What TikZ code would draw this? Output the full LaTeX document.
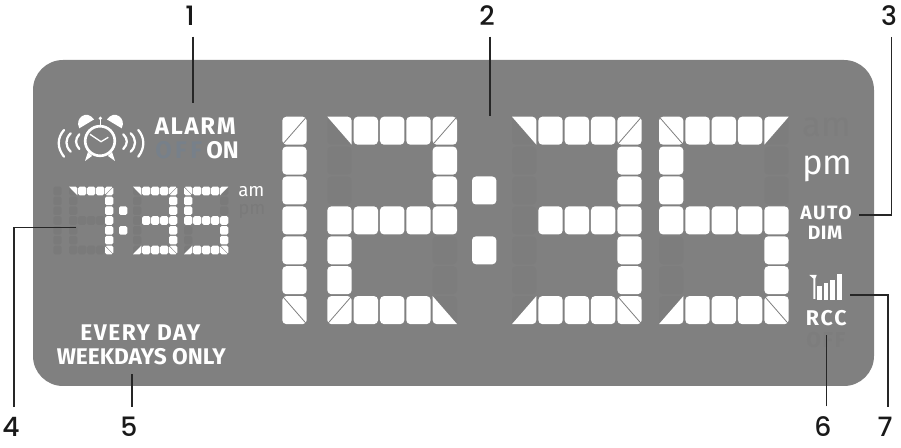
\documentclass[tikz,border=0pt]{standalone}
\usepackage{xcolor}
\usepackage{fontspec}
\setmainfont{Fira Sans}
\newfontfamily\calloutfont{Poppins Medium}
\usepackage{tikz}
\definecolor{panelgray}{HTML}{808080}
\definecolor{ghostbig}{HTML}{7D7D7D}
\definecolor{ghostsmall}{HTML}{7A7A7A}
\definecolor{ghostoff}{HTML}{77808A}
\tikzset{
  seg/.style={fill=white},
  leader/.style={line width=0.9pt, black!85},
  callout/.style={font=\calloutfont\fontsize{20}{20}\selectfont, inner sep=0pt, anchor=base, outer ysep=8pt, black!90},
  lcdtext/.style 2 args={font=\bfseries\fontsize{#1}{#1}\selectfont\addfontfeature{LetterSpace=#2}, white, inner sep=0pt, anchor=base west}
}
\newcommand{\lcdghost}[2]{\fill[ghostcol, rounded corners=\rr] ({\ox+#1*\px},{\oy+#2*\py}) rectangle ++(\cw,\ch);}
\newcommand{\lcdon}[2]{\fill[seg, rounded corners=\rr] ({\ox+#1*\px},{\oy+#2*\py}) rectangle ++(\cw,\ch);}
\newcommand{\lcdslash}[2]{\lcdon{#1}{#2}
  \draw[panelgray, line width=\sl] ({\ox+#1*\px},{\oy+#2*\py+\ch}) -- ++(\cw,-\ch);}
\newcommand{\lcdback}[2]{\lcdon{#1}{#2}
  \draw[panelgray, line width=\sl] ({\ox+#1*\px},{\oy+#2*\py}) -- ++(\cw,\ch);}
% triangles, named by the corner that is kept
\newcommand{\lcdur}[2]{\fill[seg] ({\ox+#1*\px},{\oy+#2*\py}) [rounded corners=\rr] -- ++(\cw,0) [sharp corners] -- ++(0,\ch) -- cycle;}
\newcommand{\lcdul}[2]{\fill[seg] ({\ox+#1*\px+\cw},{\oy+#2*\py}) [rounded corners=\rr] -- ++(-\cw,0) [sharp corners] -- ++(0,\ch) -- cycle;}
\newcommand{\lcdll}[2]{\fill[seg] ({\ox+#1*\px},{\oy+#2*\py}) [rounded corners=\rr] -- ++(0,\ch) [sharp corners] -- ++(\cw,0) -- cycle;}
\newcommand{\lcdlr}[2]{\fill[seg] ({\ox+#1*\px+\cw},{\oy+#2*\py}) [rounded corners=\rr] -- ++(0,\ch) [sharp corners] -- ++(-\cw,0) -- cycle;}
\newcommand{\digitone}[1]{\def\ox{#1}
  \lcdslash{0}{0}
  \foreach \r in {1,...,5} {\lcdon{0}{\r}}
  \lcdback{0}{6}}
\newcommand{\digittwo}[1]{\def\ox{#1}
  \foreach \r in {0,1,2} {\lcdghost{0}{\r}}
  \foreach \r in {4,5,6} {\lcdghost{4}{\r}}
  \lcdur{0}{0}
  \foreach \c in {1,2,3} {\lcdon{\c}{0}\lcdon{\c}{3}\lcdon{\c}{6}}
  \lcdslash{4}{0}
  \foreach \r in {1,2,3} {\lcdon{4}{\r}}
  \foreach \r in {3,4,5} {\lcdon{0}{\r}}
  \lcdslash{0}{6}
  \lcdll{4}{6}}
\newcommand{\digitthree}[1]{\def\ox{#1}
  \foreach \r in {0,...,6} {\lcdghost{0}{\r}}
  \lcdur{0}{0}
  \foreach \c in {1,2,3} {\lcdon{\c}{0}\lcdon{\c}{3}\lcdon{\c}{6}}
  \lcdslash{4}{0}
  \foreach \r in {1,...,5} {\lcdon{4}{\r}}
  \lcdlr{0}{6}
  \lcdback{4}{6}}
\newcommand{\digitfive}[1]{\def\ox{#1}
  \foreach \r in {0,1,2} {\lcdghost{4}{\r}}
  \foreach \r in {4,5,6} {\lcdghost{0}{\r}}
  \lcdback{0}{0}
  \foreach \c in {1,2,3} {\lcdon{\c}{0}\lcdon{\c}{3}\lcdon{\c}{6}}
  \lcdul{4}{0}
  \foreach \r in {1,2,3} {\lcdon{0}{\r}}
  \foreach \r in {3,4,5} {\lcdon{4}{\r}}
  \lcdlr{0}{6}
  \lcdback{4}{6}}
\newcommand{\digitseven}[1]{\def\ox{#1}
  \foreach \r in {0,...,6} {\lcdghost{0}{\r}}
  \foreach \c in {1,2,3} {\lcdghost{\c}{3}\lcdghost{\c}{6}}
  \lcdur{0}{0}
  \foreach \c in {1,2,3} {\lcdon{\c}{0}}
  \lcdslash{4}{0}
  \foreach \r in {1,...,5} {\lcdon{4}{\r}}
  \lcdback{4}{6}}
\begin{document}
\begin{tikzpicture}[x=0.75pt, y=-0.75pt]
\useasboundingbox (0,0) rectangle (901,448);
\fill[panelgray, rounded corners=22.5pt] (33,60) rectangle (874,386);

% main time
\begin{scope}
\colorlet{ghostcol}{ghostbig}
\def\px{26.33}\def\py{29.9}\def\cw{24.4}\def\ch{28}\def\rr{3pt}\def\sl{0.6pt}\def\oy{116.7}
\digitone{282.3}
\digittwo{327.3}
\digitthree{512}
\digitfive{659}
\def\ox{472}
\lcdon{0}{2}
\lcdon{0}{4}
\end{scope}

% alarm time
\begin{scope}
\colorlet{ghostcol}{ghostsmall}
\def\px{9}\def\py{9.83}\def\cw{8.3}\def\ch{8.6}\def\rr{1.2pt}\def\sl{0.3pt}\def\oy{186.7}
\def\ox{53.3}
\foreach \r in {0,...,6} {\lcdghost{0}{\r}}
\digitseven{69}
\digitthree{133}
\digitfive{184}
\def\ox{119}
\lcdon{0}{2}
\lcdon{0}{4}
\end{scope}

% clock icon
\draw[white, line width=2pt] (100,141) circle (14.8);
\draw[white, line width=1pt] (90,134.3) -- (101,141.7) -- (108.3,137.3);
\fill[white] (79.3,128.3) .. controls (74,118) and (87,109) .. (94,119.5) -- cycle;
\fill[white] (121.7,128.3) .. controls (127,118) and (114,109) .. (107,119.5) -- cycle;
\draw[white, line width=1pt] (100.3,118) -- (100.3,126);
\fill[white] (100.3,118.3) circle (1.8);
\fill[white] (88,152) -- (92,156) -- (85,161) -- cycle;
\fill[white] (112,152) -- (108,156) -- (115,161) -- cycle;
\draw[white, line width=1.7pt, line cap=round] (79.3,134.3) .. controls (75,139) and (75,144) .. (79.3,149);
\draw[white, line width=1.7pt, line cap=round] (70.7,133.3) .. controls (65,139) and (65,146) .. (70.7,151.7);
\draw[white, line width=1.7pt, line cap=round] (64,130) .. controls (57,138) and (57,148) .. (64,156.7);
\draw[white, line width=1.7pt, line cap=round] (123.3,134.3) .. controls (128,139) and (128,144) .. (123.3,149);
\draw[white, line width=1.7pt, line cap=round] (130.7,133.3) .. controls (136.5,139) and (136.5,146) .. (130.7,151.7);
\draw[white, line width=1.7pt, line cap=round] (138.3,130) .. controls (145,138) and (145,148) .. (138.3,156.7);

% signal icon
\fill[white] (809.3,275) -- (816.7,275) -- (815.3,278.5) -- (815.3,299) -- (813.3,299) -- (813.3,278.5) -- cycle;
\fill[white] (817.3,286) rectangle (822,300);
\fill[white] (823.7,283.3) rectangle (828.3,300);
\fill[white] (830,280) rectangle (835,300);
\fill[white] (837,274) rectangle (842,300);

% panel texts
\node[lcdtext={18}{7}] (alarm) at (154.5,135) {ALARM};
\node[lcdtext={18}{14}, text=ghostoff] (alarmoff) at (155,159) {OFF};
\node[lcdtext={18}{0}] (alarmon) at (206,159) {ON};
\node[font=\fontsize{14}{14}\selectfont, white, inner sep=0pt, anchor=base west] (smallam) at (238,197) {am};
\node[font=\fontsize{14}{14}\selectfont, ghostsmall, inner sep=0pt, anchor=base west] (smallpm) at (238,215) {pm};
\node[font=\fontsize{26}{26}\selectfont, ghostbig, inner sep=0pt, anchor=base west] (bigam) at (802,137) {am};
\node[font=\fontsize{26}{26}\selectfont, white, inner sep=0pt, anchor=base west] (bigpm) at (802,175) {pm};
\node[lcdtext={14.5}{8}] (auto) at (800,220) {AUTO};
\node[lcdtext={14.5}{3}] (dim) at (807.5,239.3) {DIM};
\node[lcdtext={16}{9}] (rcc) at (805.5,325.7) {RCC};
\node[lcdtext={16}{8}, text=ghostbig] (rccoff) at (806,348) {OFF};
\node[lcdtext={17}{7}] (everyday) at (80,340.7) {EVERY DAY};
\node[lcdtext={17}{0}] (weekdays) at (56.5,365) {WEEKDAYS ONLY};

% callouts
\node[callout] (n1) at (190,26) {1};
\node[callout] (n2) at (487,26) {2};
\node[callout] (n3) at (889,26) {3};
\node[callout] (n4) at (11,437) {4};
\node[callout] (n5) at (129,437) {5};
\node[callout] (n6) at (823,437) {6};
\node[callout] (n7) at (885,437) {7};

\coordinate (alarmend) at (193,103);
\coordinate (colonend) at (490,115.7);
\coordinate (dimcorner) at (891.7,215);
\coordinate (dimend) at (859,215);
\coordinate (timecorner) at (14,227.3);
\coordinate (timeend) at (76,227.3);
\coordinate (dayend) at (132,374);
\coordinate (rccend) at (826.7,335);
\coordinate (signalcorner) at (888,295);
\coordinate (signalend) at (850,295);

\draw[leader] (n1.south -| alarmend) -- (alarmend);
\draw[leader] (n2.south -| colonend) -- (colonend);
\draw[leader] (n3.south -| dimcorner) -- (dimcorner) -- (dimend);
\draw[leader] (n4.north -| timecorner) -- (timecorner) -- (timeend);
\draw[leader] (n5.north -| dayend) -- (dayend);
\draw[leader] (n6.north -| rccend) -- (rccend);
\draw[leader] (n7.north -| signalcorner) -- (signalcorner) -- (signalend);
\end{tikzpicture}
\end{document}
